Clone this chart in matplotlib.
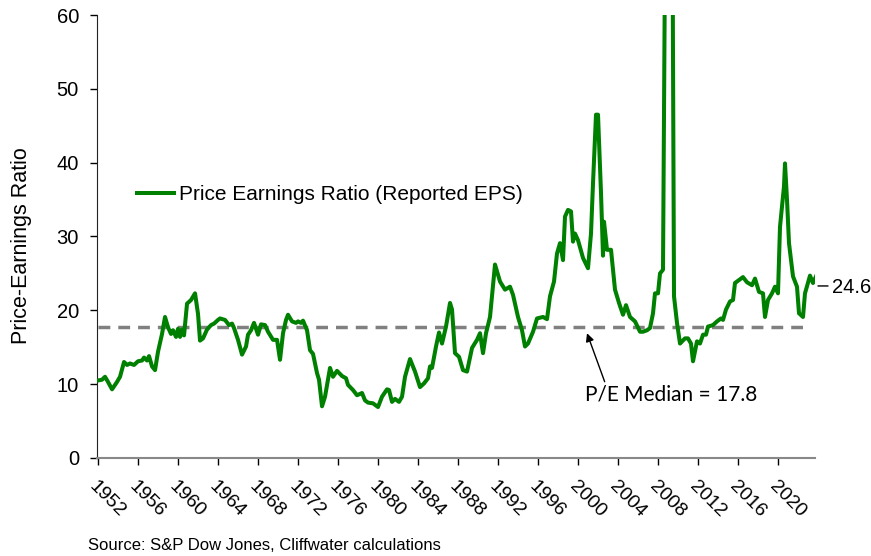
import numpy as np
import matplotlib
matplotlib.use('Agg')
import matplotlib.pyplot as plt

plt.rcParams['font.family'] = ['Liberation Sans', 'DejaVu Sans']

# P/E ratio (year, value)
years = [1952.0, 1952.4, 1952.7, 1953.0, 1953.4, 1953.9, 1954.2, 1954.6, 1954.9, 1955.2,
         1955.6, 1956.0, 1956.4, 1956.6, 1956.9, 1957.1, 1957.4, 1957.7, 1958.0, 1958.4,
         1958.7, 1959.0, 1959.3, 1959.5, 1959.8, 1960.0, 1960.2, 1960.4, 1960.6, 1960.9,
         1961.3, 1961.7, 1962.0, 1962.2, 1962.5, 1962.9, 1963.3, 1963.6, 1964.0, 1964.2,
         1964.7, 1965.1, 1965.4, 1965.6, 1966.0, 1966.4, 1966.8, 1967.0, 1967.3, 1967.6,
         1968.0, 1968.3, 1968.7, 1969.0, 1969.5, 1969.9, 1970.2, 1970.5, 1970.8, 1971.0,
         1971.4, 1971.8, 1972.0, 1972.3, 1972.5, 1972.9, 1973.2, 1973.5, 1973.9, 1974.1,
         1974.4, 1974.7, 1975.2, 1975.5, 1975.9, 1976.4, 1976.8, 1977.0, 1977.5, 1977.9,
         1978.4, 1978.7, 1979.0, 1979.5, 1980.0, 1980.4, 1980.9, 1981.1, 1981.4, 1981.7,
         1982.1, 1982.4, 1982.7, 1983.2, 1983.7, 1984.2, 1984.6, 1985.0, 1985.2, 1985.4,
         1985.8, 1986.1, 1986.4, 1986.8, 1987.2, 1987.4, 1987.7, 1988.1, 1988.5, 1988.9,
         1989.4, 1989.9, 1990.2, 1990.5, 1990.8, 1991.2, 1991.7, 1992.2, 1992.7, 1993.2,
         1993.5, 1994.0, 1994.4, 1994.7, 1995.0, 1995.5, 1995.9, 1996.5, 1996.9, 1997.2,
         1997.6, 1997.9, 1998.2, 1998.5, 1998.7, 1999.0, 1999.3, 1999.5, 1999.7, 2000.0,
         2000.5, 2001.0, 2001.3, 2001.5, 2001.8, 2002.0, 2002.3, 2002.5, 2002.6, 2002.9,
         2003.3, 2003.7, 2004.1, 2004.5, 2004.8, 2005.2, 2005.7, 2006.2, 2006.5, 2006.9,
         2007.2, 2007.5, 2007.7, 2008.0, 2008.2, 2008.5, 2008.9, 2009.3, 2009.6, 2009.9,
         2010.2, 2010.7, 2011.0, 2011.3, 2011.5, 2011.9, 2012.2, 2012.5, 2012.8, 2013.0,
         2013.5, 2013.9, 2014.3, 2014.5, 2014.8, 2015.2, 2015.5, 2015.7, 2016.1, 2016.5,
         2016.9, 2017.4, 2017.7, 2018.1, 2018.5, 2018.7, 2019.0, 2019.4, 2019.7, 2020.0,
         2020.2, 2020.6, 2020.7, 2020.9, 2021.1, 2021.5, 2021.9, 2022.1, 2022.5, 2022.7,
         2023.2, 2023.5, 2023.8]
pe = [10.5, 10.6, 11.0, 10.3, 9.3, 10.3, 11.0, 13.0, 12.6, 12.8,
      12.6, 13.1, 13.2, 13.6, 13.2, 13.8, 12.4, 11.9, 14.4, 16.8,
      19.1, 17.7, 16.8, 17.3, 16.4, 17.5, 16.4, 17.4, 16.6, 20.9,
      21.4, 22.3, 19.5, 15.9, 16.2, 17.4, 18.0, 18.2, 18.7, 18.9,
      18.7, 18.0, 18.2, 17.6, 16.0, 14.0, 15.1, 16.7, 17.3, 18.3,
      16.7, 18.1, 18.0, 17.1, 16.0, 16.0, 13.3, 16.9, 18.7, 19.4,
      18.5, 18.3, 18.5, 18.3, 18.6, 17.3, 14.6, 14.1, 11.5, 10.6,
      7.0, 8.3, 12.2, 11.0, 11.8, 11.1, 10.8, 9.9, 9.2, 8.5,
      8.8, 7.8, 7.5, 7.4, 6.9, 8.3, 9.3, 9.2, 7.6, 8.0,
      7.6, 8.3, 11.0, 13.4, 11.7, 9.6, 10.1, 10.8, 12.4, 12.2,
      15.1, 17.0, 15.5, 17.8, 21.0, 20.1, 14.2, 13.7, 11.9, 11.7,
      14.9, 16.0, 16.9, 14.2, 16.9, 19.1, 26.2, 23.9, 22.8, 23.2,
      22.1, 19.1, 17.3, 15.1, 15.5, 17.1, 18.9, 19.1, 18.8, 21.9,
      23.9, 27.7, 29.1, 26.8, 32.7, 33.6, 33.4, 29.3, 30.4, 29.5,
      27.1, 25.7, 30.4, 37.2, 46.5, 46.5, 35.9, 27.4, 32.0, 28.2,
      28.2, 22.8, 21.0, 19.4, 20.7, 19.1, 18.5, 17.1, 17.1, 17.3,
      17.6, 19.6, 22.3, 22.3, 25.0, 25.5, 110.0, 120.0, 21.9, 18.3,
      15.5, 16.2, 16.2, 15.5, 13.1, 15.8, 15.5, 16.7, 16.7, 17.8,
      18.0, 18.5, 18.9, 18.7, 20.1, 21.2, 21.4, 23.7, 24.1, 24.5,
      23.8, 23.4, 24.3, 22.5, 22.3, 19.1, 21.4, 22.3, 23.2, 22.3,
      31.3, 36.8, 39.9, 35.0, 29.1, 24.6, 23.2, 19.6, 19.1, 22.3,
      24.7, 23.7, 24.6]

median_pe = 17.8
last_pe = 24.6
tick_years = list(range(1952, 2021, 4))

fig = plt.figure(figsize=(8.71, 5.56), dpi=100)
ax = fig.add_axes([0.1114, 0.1763, 0.8243, 0.7967])

ax.plot(years, pe, color='#008000', lw=2.9, label='Price Earnings Ratio (Reported EPS)',
        solid_joinstyle='round', zorder=3)
ax.hlines(median_pe, 1952.0, 2023.0, colors='#808080', lw=2.5,
          linestyles=(0, (3.4, 2.3)), zorder=2)

ax.set_xlim(1951.9, 2023.7)
ax.set_ylim(0, 60)
ax.set_yticks(range(0, 61, 10))
ax.set_xticks(tick_years)
ax.set_xticklabels([str(y) for y in tick_years], rotation=-45, ha='left', va='top',
                   rotation_mode='anchor', fontsize=14)
ax.tick_params(axis='y', labelsize=14.5, length=5, width=1, pad=8)
ax.tick_params(axis='x', length=5, width=1, pad=9)
ax.set_ylabel('Price-Earnings Ratio', fontsize=15.5)
ax.yaxis.set_label_coords(-0.0905, 0.48)

for s in ['top', 'right']:
    ax.spines[s].set_visible(False)
ax.spines['left'].set_color('#222222')
ax.spines['bottom'].set_color('#888888')
ax.spines['bottom'].set_linewidth(1.5)

ax.legend(loc='center left', bbox_to_anchor=(0.055, 0.594), frameon=False, fontsize=15,
          handlelength=1.8, handletextpad=0.25, borderpad=0, borderaxespad=0)

ax.annotate('P/E Median = 17.8', xy=(2000.9, 16.9), xytext=(2000.7, 8.6),
            fontsize=15, family=['Lato', 'DejaVu Sans'], ha='left', va='center',
            arrowprops=dict(arrowstyle='-|>', color='black', lw=1, mutation_scale=12,
                            shrinkA=0, shrinkB=0, relpos=(0.12, 1.0)))
ax.annotate('', xy=(2024.0, 23.3), xytext=(2025.0, 23.3), annotation_clip=False,
            arrowprops=dict(arrowstyle='-', color='black', lw=1, shrinkA=0, shrinkB=0))
ax.text(2025.4, 23.1, f'{last_pe}', fontsize=14.5, ha='left', va='center', clip_on=False)

fig.text(88 / 871, 1 - 545 / 556, 'Source: S&P Dow Jones, Cliffwater calculations',
         fontsize=12, ha='left', va='center')

plt.savefig('out.png', dpi=100)
